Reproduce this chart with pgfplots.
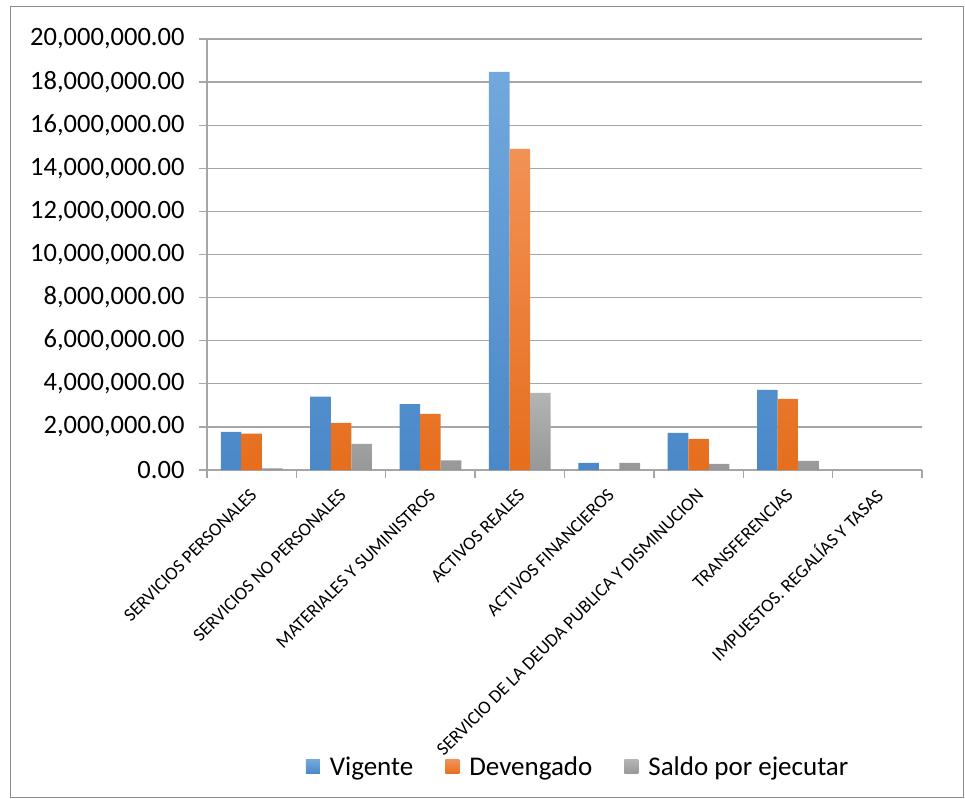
\documentclass[border=0pt]{standalone}
\usepackage{pgfplots}
\pgfplotsset{compat=1.18}
\usepackage{fontspec}
\setmainfont{Carlito}
\definecolor{gridc}{HTML}{A6A6A6}
\definecolor{borderc}{HTML}{8C8C8C}
\definecolor{blueT}{HTML}{72A8DD}
\definecolor{blueB}{HTML}{4A88C8}
\definecolor{orT}{HTML}{F39155}
\definecolor{orB}{HTML}{E66E1D}
\definecolor{grT}{HTML}{B4B4B4}
\definecolor{grB}{HTML}{979797}
\begin{document}
\begin{tikzpicture}[x=1pt,y=1pt]
\useasboundingbox (0,0) rectangle (965,-799);
\draw[borderc, line width=1pt] (10,-7) rectangle (963,-797);
\begin{axis}[
  at={(207pt,-470pt)}, anchor=south west,
  scale only axis, width=715pt, height=431pt,
  xmin=-0.5, xmax=7.5, ymin=0, ymax=20000000,
  ytick={0,2000000,4000000,6000000,8000000,10000000,12000000,14000000,16000000,18000000,20000000},
  scaled y ticks=false,
  yticklabel style={font=\fontsize{26.5}{30}\selectfont, xshift=-11pt, /pgf/number format/fixed, /pgf/number format/fixed zerofill, /pgf/number format/precision=2, /pgf/number format/1000 sep={,}, /pgf/number format/assume math mode=true},
  ymajorgrids, grid style={gridc, line width=1.3pt},
  axis x line*=bottom, axis y line*=left,
  axis line style={gridc, line width=1.3pt},
  tick style={gridc, line width=1.3pt},
  tick align=outside, major tick length=8pt,
  xtick={-0.5,0.5,...,7.5},
  x tick label as interval,
  xticklabels={SERVICIOS PERSONALES, SERVICIOS NO PERSONALES, MATERIALES Y SUMINISTROS, ACTIVOS REALES, ACTIVOS FINANCIEROS, SERVICIO DE LA DEUDA PUBLICA Y DISMINUCION, TRANSFERENCIAS, {IMPUESTOS. REGALÍAS Y TASAS}},
  xticklabel style={rotate=45, anchor=east, font=\fontsize{18.5}{20}\selectfont, yshift=-11pt, xshift=-5pt},
  ybar, bar width=0.23,
  y filter/.expression={y==0 ? nan : y},
  legend style={at={(0.519,-0.689)}, anchor=center, draw=none, fill=none, legend columns=3, font=\fontsize{27}{30}\selectfont, /tikz/every even column/.append style={column sep=30pt}, /tikz/every odd column/.append style={column sep=8pt}},
  legend image code/.code={\path[#1,draw=none] (0pt,-7pt) rectangle (14pt,7pt);},
]
\addplot[bar shift=-0.23, draw=none, top color=blueT, bottom color=blueB] coordinates {
(0,1770000) (1,3400000) (2,3060000) (3,18470000) (4,330000) (5,1720000) (6,3720000) (7,0)};
\addlegendentry{Vigente}
\addplot[bar shift=0, draw=none, top color=orT, bottom color=orB] coordinates {
(0,1690000) (1,2190000) (2,2610000) (3,14900000) (4,0) (5,1440000) (6,3300000) (7,0)};
\addlegendentry{Devengado}
\addplot[bar shift=0.23, draw=none, top color=grT, bottom color=grB] coordinates {
(0,80000) (1,1210000) (2,450000) (3,3580000) (4,330000) (5,280000) (6,420000) (7,0)};
\addlegendentry{Saldo por ejecutar}
\end{axis}
\end{tikzpicture}
\end{document}
